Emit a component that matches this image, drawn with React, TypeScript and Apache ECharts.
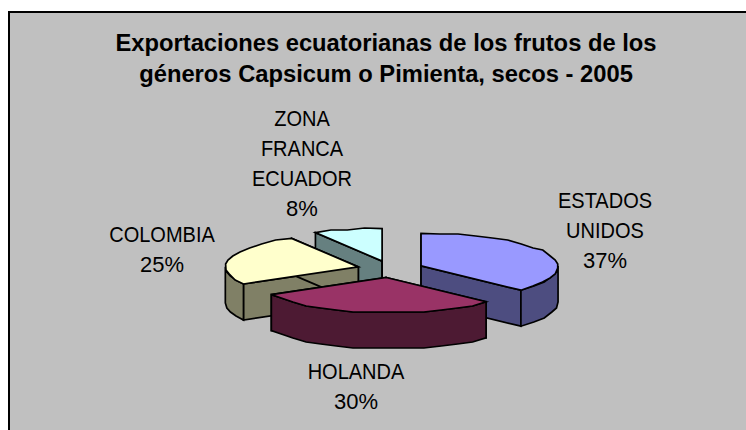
import React, { useEffect, useRef } from "react";
import * as echarts from "echarts";

const categories = ["ESTADOS UNIDOS", "HOLANDA", "COLOMBIA", "ZONA FRANCA ECUADOR"];
const values = [37, 30, 25, 8];
const titleLines = [
  "Exportaciones ecuatorianas de los frutos de los",
  "géneros Capsicum o Pimienta, secos - 2005",
];
const labelLines = [
  ["ESTADOS", "UNIDOS"],
  ["HOLANDA"],
  ["COLOMBIA"],
  ["ZONA", "FRANCA", "ECUADOR"],
];
const topColors = ["#9999FF", "#993366", "#FFFFCC", "#CCFFFF"];
const wallColors = ["#4D4D80", "#4D1A33", "#808066", "#668080"];
const labelAnchors = [
  [605, 200],
  [356, 371],
  [162, 234],
  [302, 118.5],
];

const PIE = { cx: 390.4, cy: 269.2, rxRight: 137, rxLeft: 133, ryBack: 32.5, ryFront: 35.5, explode: 33.4, tilt: 0.25, depth: 36 };
const FONT = "Liberation Sans, Arial, sans-serif";
const total = values.reduce((a, b) => a + b, 0);
const rad = (d: number) => (d * Math.PI) / 180;

const slices = (() => {
  let acc = 0;
  return values.map((v, i) => {
    const start = (acc / total) * 360;
    acc += v;
    const end = (acc / total) * 360;
    const mid = rad((start + end) / 2);
    const ax = PIE.cx + PIE.explode * Math.sin(mid);
    const ay = PIE.cy - PIE.explode * PIE.tilt * Math.cos(mid);
    return { i, start, end, ax, ay };
  });
})();
const drawOrder = [...slices].sort((a, b) => a.ay - b.ay).map((s) => s.i);

function rim(ax: number, ay: number, deg: number) {
  const s = Math.sin(rad(deg));
  const c = Math.cos(rad(deg));
  // Left half of the rim leans with the chart's perspective: wider at the back, narrower at the front.
  const rxLeft = c > 0 ? PIE.rxLeft + 7 * c * c : PIE.rxLeft + 4 * c;
  return [ax + s * (s > 0 ? PIE.rxRight : rxLeft), ay - c * (c > 0 ? PIE.ryBack : PIE.ryFront)];
}
// The reference's rim is a slightly lumpy low-resolution ellipse.
function arc(ax: number, ay: number, from: number, to: number) {
  const pts: number[][] = [];
  const n = Math.max(1, Math.round((to - from) / 8));
  for (let k = 0; k <= n; k++) {
    const p = rim(ax, ay, from + ((to - from) * k) / n);
    if (k > 0 && k < n) p[1] = Math.round(p[1] / 2) * 2;
    pts.push(p);
  }
  return pts;
}

const stroke = { stroke: "#000", lineWidth: 1.7, lineJoin: "miter" as const };

function renderItem(params: any) {
  const s = slices[drawOrder[params.dataIndex]];
  const { ax, ay, start, end } = s;
  const d = PIE.depth;
  const children: any[] = [];
  const poly = (points: number[][], fill: string) =>
    children.push({ type: "polygon", shape: { points }, style: { fill, ...stroke } });
  const wall = wallColors[s.i];
  for (const a of [start, end]) {
    const r = rim(ax, ay, a);
    poly([[ax, ay], r, [r[0], r[1] + d], [ax, ay + d]], wall);
  }
  const f = Math.max(start, 90);
  const t = Math.min(end, 270);
  if (t > f) {
    const top = arc(ax, ay, f, t);
    const bottom = top.map((p) => [p[0], p[1] + d]).reverse();
    poly([...top, ...bottom], wall);
  }
  poly([[ax, ay], ...arc(ax, ay, start, end)], topColors[s.i]);
  return { type: "group", children };
}

export default function App() {
  const ref = useRef<HTMLDivElement>(null);
  useEffect(() => {
    const chart = echarts.init(ref.current!, undefined, { renderer: "svg" });
    const texts: any[] = [];
    slices.forEach((s) => {
      const lines = [...labelLines[s.i], `${Math.round((values[s.i] / total) * 100)}%`];
      lines.forEach((text, k) => {
        texts.push({
          type: "text",
          x: labelAnchors[s.i][0],
          y: labelAnchors[s.i][1] + k * 30,
          scaleX: k < lines.length - 1 ? 0.91 : 1,
          z: 10,
          style: { text, fontFamily: FONT, fontSize: 22, fill: "#000", textAlign: "center", textVerticalAlign: "middle" },
        });
      });
    });
    titleLines.forEach((text, k) => {
      texts.push({
        type: "text", x: 386, y: 42 + k * 31.5, z: 10,
        style: { text, fontFamily: FONT, fontSize: 23.75, fontWeight: "bold", fill: "#000", textAlign: "center", textVerticalAlign: "middle" },
      });
    });
    chart.setOption({
      animation: false,
      backgroundColor: "#fff",
      graphic: [
        { type: "rect", z: -1, shape: { x: 9, y: 12, width: 800, height: 500 }, style: { fill: "#C0C0C0", stroke: "#000", lineWidth: 2 } },
        ...texts,
      ],
      series: [
        {
          type: "custom",
          coordinateSystem: "none",
          name: categories.join(", "),
          clip: false,
          silent: true,
          data: drawOrder.map((i) => values[i]),
          renderItem,
        },
      ],
    });
    return () => chart.dispose();
  }, []);
  return <div ref={ref} style={{ position: "fixed", left: 0, top: 0, width: 746, height: 430 }} />;
}
